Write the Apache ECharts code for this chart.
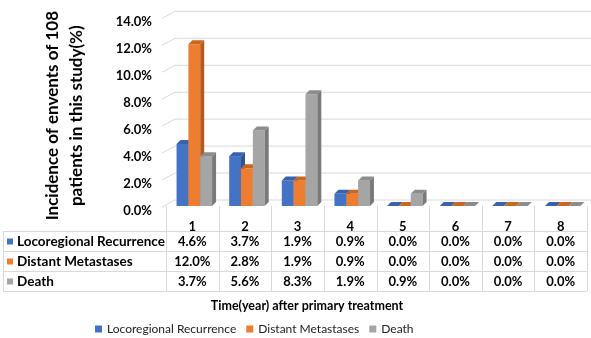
<!DOCTYPE html>
<html>
<head>
<meta charset="utf-8">
<script src="https://cdn.jsdelivr.net/npm/echarts@6/dist/echarts.min.js"></script>
<style>
  html, body { margin: 0; padding: 0; background: #fff; }
  #main { width: 591px; height: 338px; }
</style>
</head>
<body>
<div id="main"></div>
<script>
var years = ['1', '2', '3', '4', '5', '6', '7', '8'];
var recurrence = [4.6, 3.7, 1.9, 0.9, 0.0, 0.0, 0.0, 0.0];
var metastases = [12.0, 2.8, 1.9, 0.9, 0.0, 0.0, 0.0, 0.0];
var death = [3.7, 5.6, 8.3, 1.9, 0.9, 0.0, 0.0, 0.0];
var yTicks = [0, 2, 4, 6, 8, 10, 12, 14];

var FONT = 'Lato';
var rows = [
  { name: 'Locoregional Recurrence', data: recurrence, color: '#4472C4', side: '#2F5597', top: '#3A62AC' },
  { name: 'Distant Metastases', data: metastases, color: '#ED7D31', side: '#B45A1C', top: '#C9661F' },
  { name: 'Death', data: death, color: '#A5A5A5', side: '#7A7A7A', top: '#8C8C8C' }
];

var DX = 4, DY = -4; // fake 3d depth

function barSeries(row, k) {
  return {
    name: row.name,
    type: 'custom',
    z: 3,
    itemStyle: { color: row.color },
    encode: { x: 0, y: 1 },
    data: row.data.map(function (v, i) { return [i, v]; }),
    renderItem: function (params, api) {
      var base = api.coord([api.value(0), 0]);
      var top = api.coord([api.value(0), api.value(1)]);
      var catW = api.size([1, 0])[0];
      var bw = catW * 0.225;
      var x0 = base[0] - 1.5 * bw + 2 + k * bw;
      var x1 = x0 + bw;
      return {
        type: 'group',
        children: [
          { type: 'rect', shape: { x: x0, y: top[1], width: bw, height: base[1] - top[1] }, style: { fill: row.color } },
          { type: 'polygon', shape: { points: [[x1, top[1]], [x1 + DX, top[1] + DY], [x1 + DX, base[1] + DY], [x1, base[1]]] }, style: { fill: row.side } },
          { type: 'polygon', shape: { points: [[x0, top[1]], [x0 + DX, top[1] + DY], [x1 + DX, top[1] + DY], [x1, top[1]]] }, style: { fill: row.top } }
        ]
      };
    }
  };
}

var series = rows.map(barSeries);

// back wall gridlines
series.unshift({
  type: 'custom',
  name: 'grid',
  z: 1,
  silent: true,
  encode: { x: 0, y: 1 },
  data: yTicks.map(function (t) { return [0, t]; }),
  renderItem: function (params, api) {
    var p = api.coord([0, api.value(1)]);
    var catW = api.size([1, 0])[0];
    var left = p[0] - catW / 2;
    return {
      type: 'polyline',
      shape: { points: [[left - 4, p[1] + 1], [left + 9, p[1] - 6], [591, p[1] - 6]] },
      style: { stroke: '#d9d9d9', lineWidth: 1, fill: null }
    };
  }
});

var chart = echarts.init(document.getElementById('main'));
chart.setOption({
  animation: false,
  textStyle: { fontFamily: FONT },
  grid: { left: 166, right: 4, top: 17, height: 189 },
  legend: {
    data: rows.map(function (r) { return r.name; }),
    left: 90,
    top: 318,
    icon: 'rect',
    itemWidth: 7,
    itemHeight: 7,
    itemGap: 10,
    textStyle: { fontFamily: FONT, fontSize: 12, color: '#222' }
  },
  xAxis: {
    type: 'category',
    data: years,
    axisLine: { show: false },
    axisTick: { show: false },
    axisLabel: { margin: 14, fontFamily: FONT, fontSize: 13, fontWeight: 'bold', color: '#000' }
  },
  yAxis: {
    type: 'value',
    min: 0,
    max: 14,
    interval: 2,
    name: 'Incidence of envents of 108\npatients in this study(%)',
    nameLocation: 'middle',
    nameRotate: 90,
    nameGap: 77,
    nameTextStyle: { fontFamily: FONT, fontSize: 17, fontWeight: 'bold', color: '#000', lineHeight: 24, align: 'center', padding: [0, 8, 0, 0] },
    axisLine: { show: false },
    axisTick: { show: false },
    splitLine: { show: false },
    axisLabel: {
      margin: 14,
      verticalAlign: 'top',
      lineHeight: 9,
      fontFamily: FONT, fontSize: 13, fontWeight: 'bold', color: '#000',
      formatter: function (v) { return v.toFixed(1) + '%'; }
    }
  },
  series: series
});

// data table under the plot
var lineColor = '#d9d9d9';
var tLeft = 3, tLabelRight = 166, tRight = 587;
var rowY = [206, 231, 251, 271, 291];
var g = [];
function hline(y, x1, x2) {
  g.push({ type: 'line', shape: { x1: x1, y1: y + 0.5, x2: x2, y2: y + 0.5 }, style: { stroke: lineColor, lineWidth: 1 } });
}
function vline(x, y1, y2) {
  g.push({ type: 'line', shape: { x1: x + 0.5, y1: y1, x2: x + 0.5, y2: y2 }, style: { stroke: lineColor, lineWidth: 1 } });
}
for (var r = 1; r < rowY.length; r++) hline(rowY[r], tLeft, tRight);
vline(tLeft, rowY[1], rowY[4]);
vline(tLabelRight, rowY[0], rowY[4]);
var c0 = chart.convertToPixel({ xAxisIndex: 0 }, 0);
var c1 = chart.convertToPixel({ xAxisIndex: 0 }, 1);
var cw = c1 - c0;
years.forEach(function (y, i) {
  var cx = chart.convertToPixel({ xAxisIndex: 0 }, i);
  vline(Math.round(cx + cw / 2), rowY[0], rowY[4]);
});
rows.forEach(function (row, k) {
  var cy = (rowY[k + 1] + rowY[k + 2]) / 2 + 0.5;
  g.push({ type: 'rect', shape: { x: 7, y: cy - 3, width: 6, height: 6 }, style: { fill: row.color } });
  g.push({ type: 'text', x: 17, y: cy, style: { text: row.name, fontFamily: FONT, fontSize: 13.5, fontWeight: 'bold', fill: '#000', verticalAlign: 'middle' } });
  row.data.forEach(function (v, i) {
    var cx = chart.convertToPixel({ xAxisIndex: 0 }, i);
    g.push({ type: 'text', x: cx, y: cy, style: { text: v.toFixed(1) + '%', fontFamily: FONT, fontSize: 13, fontWeight: 'bold', fill: '#000', align: 'center', verticalAlign: 'middle' } });
  });
});
g.push({ type: 'text', x: 307, y: 306, style: { text: 'Time(year) after primary treatment', fontFamily: FONT, fontSize: 12.5, fontWeight: 'bold', fill: '#000', align: 'center', verticalAlign: 'middle' } });
chart.setOption({ graphic: g });
</script>
</body>
</html>
